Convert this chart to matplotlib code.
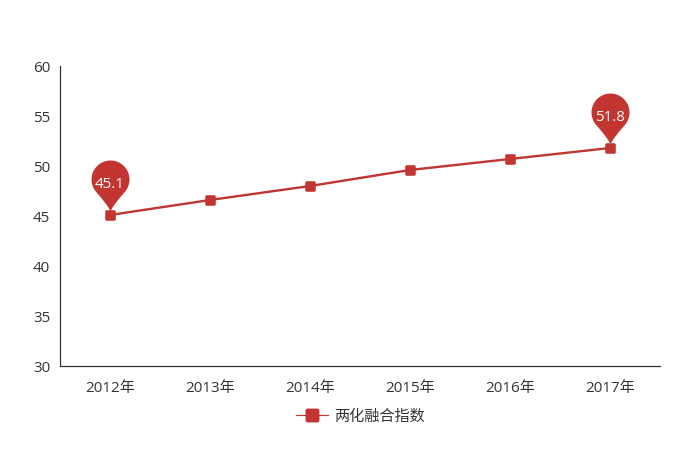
import numpy as np
from matplotlib import pyplot as plt
from matplotlib.path import Path
from matplotlib.lines import Line2D

plt.rcParams['font.family'] = ['Open Sans', 'Noto Sans CJK SC', 'DejaVu Sans']

years = ['2012年', '2013年', '2014年', '2015年', '2016年', '2017年']
index_vals = [45.1, 46.6, 48.0, 49.6, 50.7, 51.8]
pin_idx = [0, 5]
series_name = '两化融合指数'
y_ticks = [30, 35, 40, 45, 50, 55, 60]

red = '#c23531'
dark = '#333333'
fs = 10.9

W, H = 680, 453

###################
# Pin marker, in pixels relative to the data point (tip just above it)
r = 19
cy = 36
tip = 4
a = Path.arc(-40, 220)
v = a.vertices*r + [0, cy]
start = v[0]
end = v[-1]
verts = np.vstack([v, [[-1.5, 9], [0, tip]], [[1.5, 9], start], [start]])
codes = list(a.codes) + [Path.CURVE3, Path.CURVE3, Path.CURVE3, Path.CURVE3, Path.CLOSEPOLY]
pin = Path(verts, codes)
pin_size = 2*np.abs(verts).max()*0.72

# Rounded square for the line symbols
s = 1.0
c = 0.3
rr = Path([(-s+c,-s),(s-c,-s),(s,-s),(s,-s+c),(s,s-c),(s,s),(s-c,s),(-s+c,s),(-s,s),(-s,s-c),(-s,-s+c),(-s,-s),(-s+c,-s),(-s+c,-s)],
          [Path.MOVETO,Path.LINETO,Path.CURVE3,Path.CURVE3,Path.LINETO,Path.CURVE3,Path.CURVE3,Path.LINETO,Path.CURVE3,Path.CURVE3,Path.LINETO,Path.CURVE3,Path.CURVE3,Path.CLOSEPOLY])

fig = plt.figure(figsize=(W/100, H/100), dpi=100)
ax = fig.add_axes([60/W, 1-366/H, 600/W, 300/H])

x = np.arange(len(years))
ax.plot(x, index_vals, c=red, lw=1.7, marker=rr, ms=7.6, mec='none', mfc=red, clip_on=False, zorder=3)

for i in pin_idx:
    ax.plot(x[i], index_vals[i], marker=pin, ms=pin_size, mfc=red, mec='none', ls='none', clip_on=False, zorder=4)
    ax.annotate(f'{index_vals[i]:.1f}', (x[i], index_vals[i]), xytext=(0, 30.5*0.72), textcoords='offset points',
                ha='center', va='center', color='white', fontsize=fs, zorder=5)

ax.set_xlim(-0.5, 5.5)
ax.set_ylim(30, 60)
ax.set_xticks(x, years)
ax.set_yticks(y_ticks)
ax.tick_params(length=0, labelsize=fs, labelcolor=dark)
ax.tick_params(axis='x', pad=10.5)
ax.tick_params(axis='y', pad=7)
for side in ['top', 'right']:
    ax.spines[side].set_visible(False)
for side in ['left', 'bottom']:
    ax.spines[side].set_color(dark)
    ax.spines[side].set_linewidth(0.9)

handle = Line2D([], [], c=red, lw=0.8, marker=rr, ms=10, mfc=red, mec='none')
fig.legend([handle], [series_name], loc='center', bbox_to_anchor=(360.5/W, 1-417/H), frameon=False,
           fontsize=fs, labelcolor=dark, handlelength=2.1, handletextpad=0.4)

fig.savefig('out.png', dpi=100)
